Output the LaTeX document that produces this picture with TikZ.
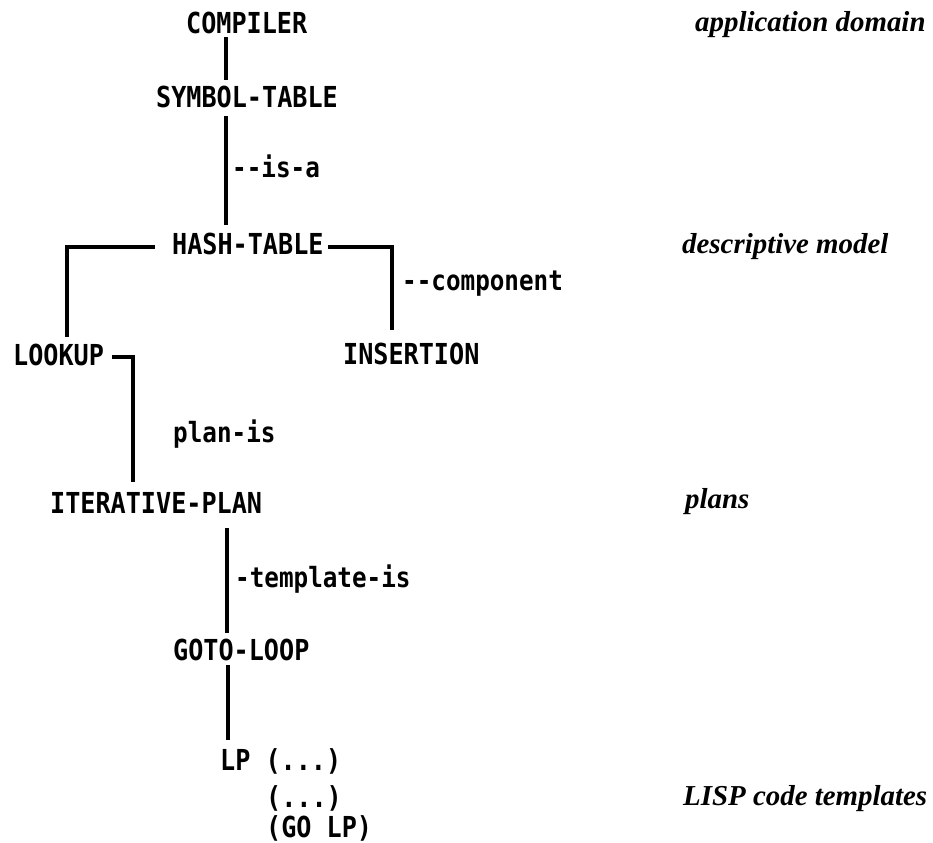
\documentclass[tikz,border=0pt]{standalone}
\usepackage{fontspec}
\usetikzlibrary{calc}
\newfontfamily\monofnt[FakeStretch=0.87,BoldFont={DejaVu Sans Mono Bold}]{DejaVu Sans Mono}
\newfontfamily\labfnt{Liberation Serif}
\begin{document}
\begin{tikzpicture}[x=1bp,y=-1bp,
  term/.style={anchor=base west,inner sep=0pt,font=\monofnt\bfseries\fontsize{29}{32}\selectfont},
  rel/.style={anchor=base west,inner sep=0pt,font=\monofnt\bfseries\fontsize{28}{32}\selectfont},
  level/.style={anchor=base west,inner sep=0pt,font=\labfnt\bfseries\itshape\fontsize{29}{32}\selectfont},
  link/.style={line width=4bp}]
\useasboundingbox (0,0) rectangle (933,843);
% terms
\node[term] (compiler) at (186,33) {COMPILER};
\node[term] (symtab) at (156,107) {SYMBOL-TABLE};
\node[term] (hash) at (172,254) {HASH-TABLE};
\node[term] (lookup) at (13,365) {LOOKUP};
\node[term] (insertion) at (343,364) {INSERTION};
\node[term] (itplan) at (50,513) {ITERATIVE-PLAN};
\node[term] (goto) at (173,660) {GOTO-LOOP};
\node[term] (lp1) at (220,770) {LP (...)};
\node[term] (lp2) at (266,807) {(...)};
\node[term] (lp3) at (266,837) {(GO LP)};
% relation labels
\node[rel] (isa) at (232,177) {--is-a};
\node[rel] (comp) at (402,290) {--component};
\node[rel] (planis) at (173,442) {plan-is};
\node[rel] (tmpl) at (235,587) {-template-is};
% level labels
\node[level] (lvapp) at (695,31) {application domain};
\node[level] (lvdesc) at (682,253) {descriptive model};
\node[level] (lvplans) at (685,508) {plans};
\node[level] (lvlisp) at (683,805) {LISP code templates};
% connectors
\draw[link] ($(compiler.base west)+(40,4)$) -- ($(symtab.base west)+(70,-27)$);
\draw[link] ($(symtab.base west)+(70,9)$) -- ($(hash.base west)+(54,-29)$);
\draw[link] ($(hash.base west)+(-17,-7)$) -| ($(lookup.base west)+(54,-28)$);
\draw[link] ($(hash.base west)+(156,-7)$) -| ($(insertion.base west)+(49,-34)$);
\draw[link] ($(lookup.base west)+(99,-8)$) -| ($(itplan.base west)+(83,-31)$);
\draw[link] ($(itplan.base west)+(177,15)$) -- ($(goto.base west)+(54,-27)$);
\draw[link] ($(goto.base west)+(55,5)$) -- ($(lp1.base west)+(8,-30)$);
\end{tikzpicture}
\end{document}
